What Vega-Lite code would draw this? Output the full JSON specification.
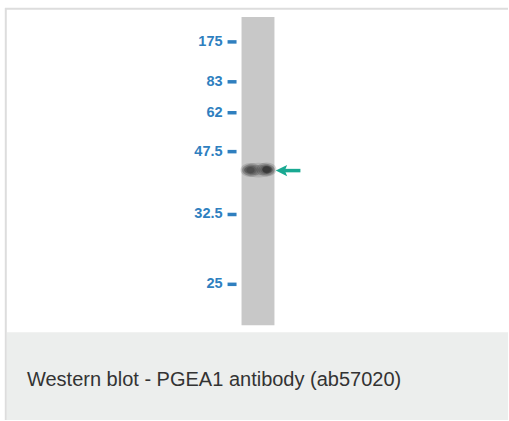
{
  "$schema": "https://vega.github.io/schema/vega-lite/v6.json",
  "width": 509,
  "height": 421,
  "padding": 0,
  "autosize": {"type": "fit", "contains": "padding"},
  "background": "white",
  "config": {"view": {"stroke": null}},
  "datasets": {
    "frame": [
      {"x": 5.8, "x2": 5.8, "y": 8, "y2": 421, "part": "left"},
      {"x": 5, "x2": 509, "y": 8.8, "y2": 8.8, "part": "top"}
    ],
    "caption": [
      {"x": 7, "x2": 509, "y": 333, "y2": 421, "text": "Western blot - PGEA1 antibody (ab57020)", "tx": 27, "ty": 381}
    ],
    "lane": [
      {"x": 242, "x2": 275, "y": 17, "y2": 326}
    ],
    "markers": [
      {"kDa": "175", "pos": 42, "lx": 223, "dx": 228, "dx2": 237},
      {"kDa": "83", "pos": 82, "lx": 223, "dx": 228, "dx2": 237},
      {"kDa": "62", "pos": 113, "lx": 223, "dx": 228, "dx2": 237},
      {"kDa": "47.5", "pos": 152, "lx": 223, "dx": 228, "dx2": 237},
      {"kDa": "32.5", "pos": 215, "lx": 223, "dx": 228, "dx2": 237},
      {"kDa": "25", "pos": 285, "lx": 223, "dx": 228, "dx2": 237}
    ],
    "bandwhole": [
      {"bx": 259, "by": 170.5}
    ],
    "band": [
      {"bx": 251, "by": 170.5},
      {"bx": 267, "by": 170}
    ],
    "core": [
      {"bx": 267.5, "by": 170}
    ],
    "arrow": [
      {"head": 282, "base": 285, "tail": 301, "y": 171}
    ]
  },
  "layer": [
    {
      "data": {"name": "caption"},
      "mark": {"type": "rect", "color": "#eceeed"},
      "encoding": {
        "x": {"field": "x", "type": "quantitative", "scale": {"domain": [0, 509], "nice": false, "zero": false}, "axis": null},
        "x2": {"field": "x2"},
        "y": {"field": "y", "type": "quantitative", "scale": {"domain": [0, 421], "nice": false, "zero": false, "reverse": true}, "axis": null},
        "y2": {"field": "y2"}
      }
    },
    {
      "data": {"name": "caption"},
      "mark": {"type": "text", "align": "left", "baseline": "middle", "font": "Liberation Sans", "fontSize": 20, "color": "#333333"},
      "encoding": {
        "x": {"field": "tx", "type": "quantitative"},
        "y": {"field": "ty", "type": "quantitative"},
        "text": {"field": "text"}
      }
    },
    {
      "data": {"name": "frame"},
      "mark": {"type": "rule", "color": "#dddddd", "strokeWidth": 2},
      "encoding": {
        "x": {"field": "x", "type": "quantitative"},
        "x2": {"field": "x2"},
        "y": {"field": "y", "type": "quantitative"},
        "y2": {"field": "y2"}
      }
    },
    {
      "data": {"name": "lane"},
      "mark": {"type": "rect", "color": "#c8c8c8"},
      "encoding": {
        "x": {"field": "x", "type": "quantitative"},
        "x2": {"field": "x2"},
        "y": {"field": "y", "type": "quantitative"},
        "y2": {"field": "y2"}
      }
    },
    {
      "data": {"name": "bandwhole"},
      "mark": {"type": "point", "filled": true, "shape": "M-1,0A1,0.45 0 1,1 1,0A1,0.45 0 1,1 -1,0Z", "size": 1100, "color": "#555555", "opacity": 0.2},
      "encoding": {
        "x": {"field": "bx", "type": "quantitative"},
        "y": {"field": "by", "type": "quantitative"}
      }
    },
    {
      "data": {"name": "bandwhole"},
      "mark": {"type": "point", "filled": true, "shape": "M-1,0A1,0.35 0 1,1 1,0A1,0.35 0 1,1 -1,0Z", "size": 850, "color": "#333333", "opacity": 0.2},
      "encoding": {
        "x": {"field": "bx", "type": "quantitative"},
        "y": {"field": "by", "type": "quantitative"}
      }
    },
    {
      "data": {"name": "band"},
      "mark": {"type": "point", "filled": true, "shape": "M-1,0A1,0.7 0 1,1 1,0A1,0.7 0 1,1 -1,0Z", "size": 400, "color": "#222222", "opacity": 0.16},
      "encoding": {
        "x": {"field": "bx", "type": "quantitative"},
        "y": {"field": "by", "type": "quantitative"}
      }
    },
    {
      "data": {"name": "band"},
      "mark": {"type": "point", "filled": true, "shape": "M-1,0A1,0.7 0 1,1 1,0A1,0.7 0 1,1 -1,0Z", "size": 260, "color": "#222222", "opacity": 0.18},
      "encoding": {
        "x": {"field": "bx", "type": "quantitative"},
        "y": {"field": "by", "type": "quantitative"}
      }
    },
    {
      "data": {"name": "band"},
      "mark": {"type": "point", "filled": true, "shape": "M-1,0A1,0.7 0 1,1 1,0A1,0.7 0 1,1 -1,0Z", "size": 150, "color": "#1a1a1a", "opacity": 0.2},
      "encoding": {
        "x": {"field": "bx", "type": "quantitative"},
        "y": {"field": "by", "type": "quantitative"}
      }
    },
    {
      "data": {"name": "band"},
      "mark": {"type": "point", "filled": true, "shape": "M-1,0A1,0.75 0 1,1 1,0A1,0.75 0 1,1 -1,0Z", "size": 70, "color": "#111111", "opacity": 0.22},
      "encoding": {
        "x": {"field": "bx", "type": "quantitative"},
        "y": {"field": "by", "type": "quantitative"}
      }
    },
    {
      "data": {"name": "core"},
      "mark": {"type": "point", "filled": true, "shape": "M-1,0A1,0.8 0 1,1 1,0A1,0.8 0 1,1 -1,0Z", "size": 90, "color": "#000000", "opacity": 0.25},
      "encoding": {
        "x": {"field": "bx", "type": "quantitative"},
        "y": {"field": "by", "type": "quantitative"}
      }
    },
    {
      "data": {"name": "markers"},
      "mark": {"type": "text", "align": "right", "baseline": "middle", "font": "Liberation Sans", "fontSize": 14.5, "fontWeight": "bold", "color": "#2f7fbf"},
      "encoding": {
        "x": {"field": "lx", "type": "quantitative"},
        "y": {"field": "pos", "type": "quantitative"},
        "text": {"field": "kDa"}
      }
    },
    {
      "data": {"name": "markers"},
      "mark": {"type": "rule", "color": "#2f7fbf", "strokeWidth": 3.5},
      "encoding": {
        "x": {"field": "dx", "type": "quantitative"},
        "x2": {"field": "dx2"},
        "y": {"field": "pos", "type": "quantitative"}
      }
    },
    {
      "data": {"name": "arrow"},
      "mark": {"type": "rule", "color": "#19a992", "strokeWidth": 3.5},
      "encoding": {
        "x": {"field": "base", "type": "quantitative"},
        "x2": {"field": "tail"},
        "y": {"field": "y", "type": "quantitative"}
      }
    },
    {
      "data": {"name": "arrow"},
      "mark": {"type": "point", "filled": true, "shape": "M-1,0L1,-1L0.6,0L1,1Z", "size": 130, "color": "#19a992", "opacity": 1},
      "encoding": {
        "x": {"field": "head", "type": "quantitative"},
        "y": {"field": "y", "type": "quantitative"}
      }
    }
  ]
}
